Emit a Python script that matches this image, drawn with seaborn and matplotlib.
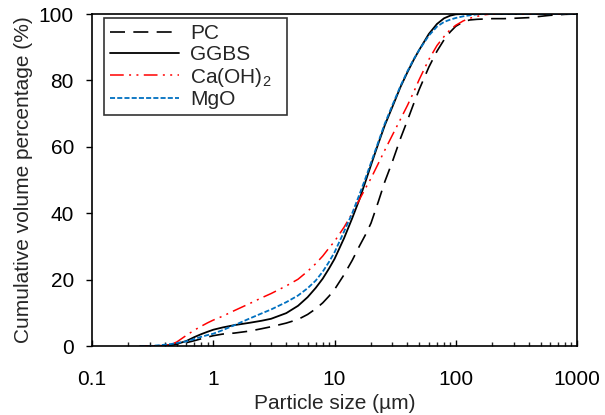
import matplotlib
matplotlib.use("Agg")
import matplotlib.pyplot as plt
import seaborn as sns
import pandas as pd

# particle size grid (um) and cumulative volume (%)
sizes = [0.25, 0.3, 0.35, 0.4, 0.45, 0.5, 0.6, 0.7, 0.8, 0.9, 1, 1.2, 1.5, 2, 2.5, 3,
         4, 5, 6, 7, 8, 9, 10, 12, 14, 16, 18, 20, 23, 26, 30, 35, 40, 45, 50, 60,
         70, 80, 90, 100, 115, 130, 150, 175, 200, 250, 300, 400, 500, 600, 800, 1000]

pc = [0, 0, 0, 0.05, 0.3, 0.6, 1.0, 1.6, 2.2, 2.7, 3.1, 3.6, 3.9, 4.5, 5.2, 5.8,
      6.9, 8.0, 9.5, 11.2, 13, 15, 17, 21.5, 25.8, 30, 33.5, 37, 43.5, 49.5, 55.5, 62.5,
      68, 73, 77.3, 84, 88.8, 92.2, 94.6, 96.3, 97.6, 98.2, 98.4, 98.5, 98.6, 98.6,
      98.7, 98.9, 99.3, 99.6, 99.9, 100]
ggbs = [0, 0, 0, 0.1, 0.3, 0.6, 1.5, 2.7, 3.6, 4.3, 4.9, 5.6, 6.3, 7.0, 7.6, 8.2,
        9.9, 12.1, 14.7, 17.5, 20.3, 23.3, 26.2, 32.5, 38.5, 44, 49.5, 54.5, 61, 66.5,
        72, 78, 82.5, 86.2, 89.2, 94, 97, 98.7, 99.5, 99.9, 100, 100, 100, 100, 100,
        100, 100, 100, 100, 100, 100, 100]
caoh2 = [0, 0.05, 0.1, 0.2, 0.5, 1.2, 3.2, 4.8, 6.0, 7.0, 7.8, 9.0, 10.7, 12.8, 14.5,
         15.8, 18.1, 20.1, 22.5, 24.8, 27.1, 29.5, 31.5, 35.8, 40, 44, 47.5, 50.5, 55,
         59, 63.5, 68.3, 72.5, 76.5, 80.3, 86.3, 90.5, 93.2, 95.3, 96.6, 97.9, 98.7,
         99.3, 99.8, 100, 100, 100, 100, 100, 100, 100, 100]
mgo = [0, 0, 0.2, 0.4, 0.6, 0.9, 1.4, 2.1, 2.8, 3.3, 3.7, 4.8, 6.3, 8.3, 9.8, 11,
       13.2, 15.2, 17.4, 19.7, 22.4, 25.3, 28.2, 34.5, 40, 45.5, 50.5, 55.2, 61.5, 67,
       72.5, 78.3, 82.8, 86.4, 89.2, 93.5, 96.2, 97.6, 98.3, 98.8, 99.3, 99.6, 99.9,
       100, 100, 100, 100, 100, 100, 100, 100, 100]

series = {"PC": pc, "GGBS": ggbs, "Ca(OH)$_2$": caoh2, "MgO": mgo}
styles = {
    "PC": dict(color="black", linestyle=(0, (9, 5)), lw=1.2),
    "GGBS": dict(color="black", linestyle="-", lw=1.3),
    "Ca(OH)$_2$": dict(color="#FF0000", linestyle=(0, (9, 3.5, 1.3, 3.5, 1.3, 3.5)), lw=1.1),
    "MgO": dict(color="#0070C0", linestyle=(0, (2.8, 1.2)), lw=1.3),
}

sns.set_style("ticks")
plt.rcParams["font.family"] = ["Liberation Sans", "DejaVu Sans"]
plt.rcParams["mathtext.default"] = "regular"

fig = plt.figure(figsize=(6.05, 4.15), dpi=100)
ax = fig.add_axes([92 / 605, 69 / 415, 485 / 605, 332 / 415])

for name, vals in series.items():
    df = pd.DataFrame({"size": sizes, "cum": vals})
    sns.lineplot(data=df, x="size", y="cum", ax=ax, label=name, **styles[name])

ax.set_xscale("log")
ax.set_xlim(0.1, 1000)
ax.set_ylim(0, 100)
ax.set_yticks([0, 20, 40, 60, 80, 100])
ax.set_xticks([0.1, 1, 10, 100, 1000])
ax.set_xticklabels(["0.1", "1", "10", "100", "1000"])

for s in ax.spines.values():
    s.set_visible(True)
    s.set_color("black")
    s.set_linewidth(1.2)

ax.tick_params(axis="x", which="major", direction="in", length=4, width=1,
               labelsize=15, pad=17, colors="black")
ax.tick_params(axis="x", which="minor", direction="in", length=3, width=1)
ax.tick_params(axis="y", direction="out", length=4, width=1, labelsize=15,
               pad=9, colors="black")

ax.set_xlabel("Particle size (µm)", fontsize=15, labelpad=4)
ax.set_ylabel("Cumulative volume percentage (%)", fontsize=15, labelpad=4)

leg = ax.legend(loc="upper left", bbox_to_anchor=(0.0247, 0.0, 0.3773, 0.988),
                mode="expand", borderaxespad=0,
                fontsize=15, frameon=True, fancybox=False, edgecolor="black",
                handlelength=3.3, handletextpad=0.55, labelspacing=0.08,
                borderpad=0.3)
leg.get_frame().set_linewidth(1.2)

fig.savefig("out.png", dpi=100)
